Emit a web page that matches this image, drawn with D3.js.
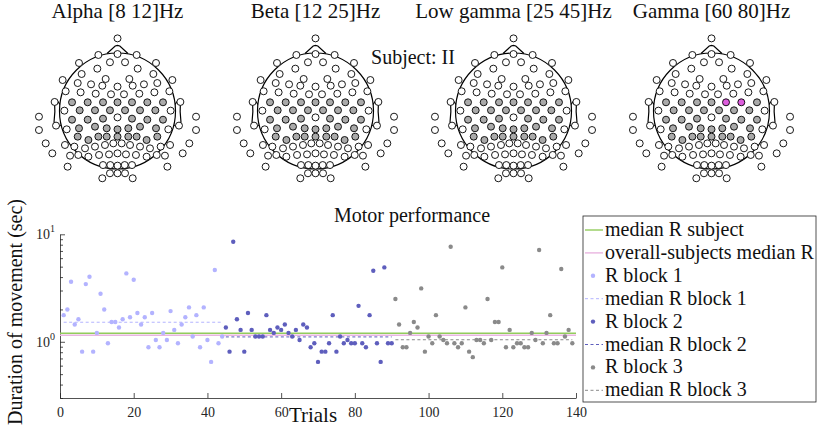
<!DOCTYPE html>
<html>
<head>
<meta charset="utf-8">
<script src="https://cdn.jsdelivr.net/npm/d3@7"></script>
<style>
  body { margin: 0; background: #fff; }
  svg { display: block; font-family: 'Liberation Serif', 'DejaVu Serif', serif; }
</style>
</head>
<body>
<svg id="chart" width="817" height="428"></svg>
<script>
// ---- topoplot data ----
const bands = ['Alpha [8 12]Hz', 'Beta [12 25]Hz', 'Low gamma [25 45]Hz', 'Gamma [60 80]Hz']
const subjectLabel = 'Subject: II'
// electrode layout, right half + midline (head radius = 0.5, y up)
const elecX = [0, 0, 0.165, 0.065, 0.332, 0.174, 0.309, 0.473, 0.102, 0.228, 0.343, 0, 0.131, 0.447, 0.056, 0.188,
  0.318, 0, 0.125, 0.257, 0.392, 0.542, 0.065, 0.194, 0.326, 0.458, 0, 0.125, 0.257, 0.392, 0.677, 0,
  0.093, 0.194, 0.332, 0.438, 0.530, 0, 0.093, 0.165, 0.251, 0.343, 0.036, 0.108, 0.194, 0.280, 0.372, 0.453,
  0, 0.073, 0.159, 0.251, 0.338, 0.409, 0, 0.062, 0.125, 0, 0.065, 0.131, 0.677, 0.619, 0.562, 0.430]
const elecY = [0.626, 0.491, 0.483, 0.420, 0.414, 0.365, 0.319, 0.267, 0.276, 0.230, 0.241, 0.210, 0.218, 0.170, 0.144, 0.149,
  0.161, 0.075, 0.075, 0.075, 0.075, 0.078, 0.006, 0.006, 0.006, 0.003, -0.055, -0.066, -0.075, -0.075, -0.049, -0.158,
  -0.149, -0.135, -0.149, -0.158, -0.126, -0.221, -0.221, -0.221, -0.250, -0.221, -0.279, -0.293, -0.307, -0.322, -0.307, -0.293,
  -0.365, -0.374, -0.379, -0.394, -0.379, -0.385, -0.471, -0.466, -0.466, -0.537, -0.537, -0.580, -0.164, -0.279, -0.365, -0.480]
const elecGrey = [0, 0, 0, 0, 0, 0, 0, 0, 0, 0, 0, 0, 0, 0, 0, 0,
  0, 1, 1, 1, 1, 0, 1, 1, 1, 0, 0, 1, 1, 1, 0, 1,
  1, 1, 1, 0, 0, 1, 1, 1, 1, 1, 0, 0, 0, 0, 0, 0,
  0, 0, 0, 0, 0, 0, 0, 0, 0, 0, 0, 0, 0, 0, 0, 0]
// electrodes (right side) marked as significant per band
const highlight = [[], [], [], [18, 19]]

// ---- motor performance data ----
const block1 = [1.77, 2.0, 3.62, 1.45, 1.62, 0.81, 3.44, 4.03, 0.81, 1.21, 2.8, 2.0, 0.97, 1.53, 1.53, 1.36, 1.62, 4.33, 1.69, 3.78,
  1.85, 1.45, 1.69, 0.89, 1.85, 1.04, 0.89, 1.21, 1.04, 1.93, 1.29, 0.97, 1.45, 1.69, 2.09, 1.12, 1.77, 0.89, 2.09, 1.04,
  0.65, 4.65, 0.97, 1.12]
const block2 = [1.36, 0.81, 8.53, 1.62, 1.29, 0.81, 1.85, 1.29, 1.12, 1.12, 1.12, 1.77, 1.29, 1.21, 1.36, 1.29, 1.45, 1.21, 1.12, 1.29,
  1.04, 1.45, 1.36, 0.89, 0.97, 0.65, 0.81, 0.81, 0.97, 1.77, 0.81, 1.12, 0.97, 1.04, 0.97, 0.97, 2.16, 0.97, 0.89, 1.77,
  4.58, 0.97, 0.65, 4.92, 0.97, 0.97]
const block3 = [2.5, 1.45, 0.89, 0.89, 1.21, 1.53, 1.36, 3.14, 0.81, 1.12, 0.97, 1.77, 1.12, 1.04, 0.97, 7.67, 0.97, 0.89, 0.97, 2.09,
  0.81, 0.72, 1.04, 1.04, 0.97, 2.5, 1.04, 1.53, 1.53, 4.92, 0.89, 1.29, 0.89, 0.97, 0.97, 0.89, 0.89, 1.21, 1.04, 7.14,
  0.97, 1.21, 1.77, 0.97, 0.97, 4.75, 1.12, 1.29, 0.97]
const blockStart = [1, 45, 91]
const blockMedian = [1.52, 1.11, 1.045]
const subjectMedian = 1.2
const overallMedian = 1.15
const xTicks = [0, 20, 40, 60, 80, 100, 120, 140]
const yMajor = [1, 10]
const yMinor = [0.3, 0.4, 0.5, 0.6, 0.7, 0.8, 0.9, 2, 3, 4, 5, 6, 7, 8, 9]
const legendLabels = ['median R subject', 'overall-subjects median R', 'R block 1', 'median R block 1',
  'R block 2', 'median R block 2', 'R block 3', 'median R block 3']

// ---- styles ----
const ink = '#262626'
const blockColor = ['#b3b3ff', '#5e5ebd', '#8a8a8a']
const greenLine = '#92cc5c'
const pinkLine = '#e9b5e0'

const svg = d3.select('#chart')

/*  topoplots  */
const headX = d3.scalePoint().domain(bands).range([117.5, 711.5])
const headY = 111
const ux = d3.scaleLinear().domain([-0.5, 0.5]).range([-58, 58])
const uy = d3.scaleLinear().domain([-0.5, 0.5]).range([58, -58])
const uline = d3.line().x(d => ux(d[0])).y(d => uy(d[1]))

const electrodes = []
elecX.forEach((x, i) => {
  electrodes.push({ i: i, side: 1, x: x, y: elecY[i] })
  if (x > 0) electrodes.push({ i: i, side: -1, x: -x, y: elecY[i] })
})

const noseXY = [[0.09, 0.4954], [0.02, 0.56], [0, 0.565], [-0.02, 0.56], [-0.09, 0.4954]]
const earX = [0.497, 0.510, 0.518, 0.5299, 0.5419, 0.54, 0.547, 0.532, 0.510, 0.489]
const earY = [0.0555, 0.0775, 0.0783, 0.0746, 0.0555, -0.0055, -0.0932, -0.1313, -0.1384, -0.1199]

bands.forEach((band, k) => {
  let g = svg.append('g').attr('transform', 'translate(' + headX(band) + ',' + headY + ')')
  g.append('text')
    .attr('x', 0)
    .attr('y', 18 - headY)
    .attr('text-anchor', 'middle')
    .style('font-size', '21px')
    .attr('fill', '#111')
    .text(band)
  g.append('circle')
    .attr('r', ux(0.5))
    .attr('fill', 'none')
    .attr('stroke', '#000')
    .attr('stroke-width', 1.2)
  g.append('path')
    .attr('d', uline(noseXY))
    .attr('fill', 'none')
    .attr('stroke', '#000')
    .attr('stroke-width', 1.2)
  ;[1, -1].forEach(s => {
    g.append('path')
      .attr('d', uline(earX.map((ex, j) => [s * ex, earY[j]])))
      .attr('fill', 'none')
      .attr('stroke', '#000')
      .attr('stroke-width', 1.2)
  })
  g.selectAll('.elec')
    .data(electrodes)
    .enter()
    .append('circle')
    .attr('class', 'elec')
    .attr('cx', d => ux(d.x))
    .attr('cy', d => uy(d.y))
    .attr('r', 3.5)
    .attr('stroke', '#000')
    .attr('stroke-width', 0.9)
    .attr('fill', d => {
      if (d.side === 1 && highlight[k].includes(d.i)) return '#dd5ddd'
      return elecGrey[d.i] ? '#aaaaaa' : '#ffffff'
    })
})

svg.append('text')
  .attr('x', 413)
  .attr('y', 64)
  .attr('text-anchor', 'middle')
  .style('font-size', '20px')
  .attr('fill', '#111')
  .text(subjectLabel)

/*  motor performance  */
const x = d3.scaleLinear().domain([0, 140]).range([60, 576])
const y = d3.scaleLog().domain([0.3, 10]).range([398, 234.3])

let xAxis = svg.append('g')
  .attr('transform', 'translate(0,398)')
  .call(d3.axisBottom(x).tickValues(xTicks).tickSizeInner(-5).tickSizeOuter(0).tickPadding(9))
xAxis.attr('font-family', null).attr('font-size', null)
xAxis.selectAll('text').style('font-size', '14px').attr('fill', ink)

let yAxis = svg.append('g')
  .attr('transform', 'translate(60,0)')
  .call(d3.axisLeft(y).tickValues(yMajor).tickSizeInner(-5).tickSizeOuter(0).tickFormat(() => ''))
let yMinorAxis = svg.append('g')
  .attr('transform', 'translate(60,0)')
  .call(d3.axisLeft(y).tickValues(yMinor).tickSizeInner(-3).tickSizeOuter(0).tickFormat(() => ''))
yMinorAxis.select('.domain').remove()
;[xAxis, yAxis, yMinorAxis].forEach(a => {
  a.selectAll('line').attr('stroke', ink).attr('stroke-width', 0.8)
  a.selectAll('.domain').attr('stroke', ink).attr('stroke-width', 0.8)
})

yMajor.forEach(v => {
  let t = svg.append('text')
    .attr('x', 55)
    .attr('y', y(v) + 5)
    .attr('text-anchor', 'end')
    .attr('fill', ink)
    .style('font-size', '14px')
  t.append('tspan').text('10')
  t.append('tspan').attr('dy', -7).style('font-size', '10px').text(Math.round(Math.log10(v)))
})

svg.append('text')
  .attr('transform', 'translate(22,312) rotate(-90)')
  .attr('text-anchor', 'middle')
  .style('font-size', '20px')
  .attr('fill', '#111')
  .text('Duration of movement (sec)')
svg.append('text')
  .attr('x', 313)
  .attr('y', 422)
  .attr('text-anchor', 'middle')
  .style('font-size', '21px')
  .attr('fill', '#111')
  .text('Trials')
svg.append('text')
  .attr('x', 412)
  .attr('y', 222)
  .attr('text-anchor', 'middle')
  .style('font-size', '20px')
  .attr('fill', '#111')
  .text('Motor performance')

/* median lines */
svg.append('line')
  .attr('x1', x(0)).attr('x2', x(140))
  .attr('y1', y(subjectMedian)).attr('y2', y(subjectMedian))
  .attr('stroke', greenLine).attr('stroke-width', 1.6)
svg.append('line')
  .attr('x1', x(0)).attr('x2', x(140))
  .attr('y1', y(overallMedian)).attr('y2', y(overallMedian))
  .attr('stroke', pinkLine).attr('stroke-width', 1.6)

const blocks = [block1, block2, block3]
blocks.forEach((vals, b) => {
  let t0 = blockStart[b]
  svg.append('line')
    .attr('x1', x(t0)).attr('x2', x(t0 + vals.length - 1))
    .attr('y1', y(blockMedian[b])).attr('y2', y(blockMedian[b]))
    .attr('stroke', blockColor[b])
    .attr('stroke-width', 1)
    .attr('stroke-dasharray', '3,2.5')
  svg.append('g')
    .selectAll('circle')
    .data(vals)
    .enter()
    .append('circle')
    .attr('cx', (d, i) => x(t0 + i))
    .attr('cy', d => y(d))
    .attr('r', 2.2)
    .attr('fill', blockColor[b])
})

/* legend */
const lg = svg.append('g').attr('transform', 'translate(583,216)')
lg.append('rect')
  .attr('width', 233)
  .attr('height', 186)
  .attr('fill', '#fff')
  .attr('stroke', ink)
  .attr('stroke-width', 0.8)
const legendColor = [greenLine, pinkLine, blockColor[0], blockColor[0], blockColor[1], blockColor[1], blockColor[2], blockColor[2]]
const legendKind = ['line', 'line', 'dot', 'dash', 'dot', 'dash', 'dot', 'dash']
let item = lg.selectAll('.item')
  .data(legendLabels)
  .enter()
  .append('g')
  .attr('class', 'item')
  .attr('transform', (d, i) => 'translate(0,' + (14 + i * 22.9) + ')')
item.each(function(d, i) {
  let it = d3.select(this)
  if (legendKind[i] === 'dot') {
    it.append('circle').attr('cx', 10).attr('cy', 0).attr('r', 2.2).attr('fill', legendColor[i])
  } else {
    it.append('line')
      .attr('x1', 2).attr('x2', 20).attr('y1', 0).attr('y2', 0)
      .attr('stroke', legendColor[i])
      .attr('stroke-width', legendKind[i] === 'line' ? 1.4 : 1)
      .attr('stroke-dasharray', legendKind[i] === 'dash' ? '3,2.5' : null)
  }
})
item.append('text')
  .attr('x', 22)
  .attr('y', 6)
  .style('font-size', '20px')
  .attr('fill', '#111')
  .text(d => d)
</script>
</body>
</html>
